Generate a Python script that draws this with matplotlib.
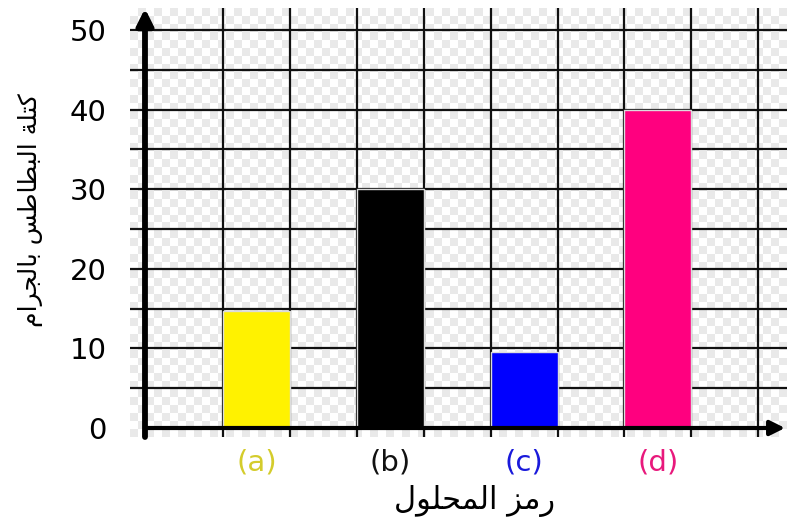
import numpy as np
import matplotlib
matplotlib.use('Agg')
import matplotlib.pyplot as plt
from matplotlib.colors import ListedColormap

# Data
categories = ['(a)', '(b)', '(c)', '(d)']
masses = [14.7, 30, 9.6, 40]
bar_colors = ['#fff200', '#000000', '#0000ff', '#ff007f']
label_colors = ['#d4cc2c', '#111111', '#1a1adb', '#e8197c']
y_ticks = [0, 10, 20, 30, 40, 50]

x_title = 'رمز المحلول'
y_title = 'كتلة البطاطس بالجرام'

# matplotlib has no Arabic shaping, so pick presentation forms by hand
# (isolated, final, initial, medial)
FORMS = {
    'ا': ('\uFE8D', '\uFE8E', None, None),
    'ب': ('\uFE8F', '\uFE90', '\uFE91', '\uFE92'),
    'ة': ('\uFE93', '\uFE94', None, None),
    'ت': ('\uFE95', '\uFE96', '\uFE97', '\uFE98'),
    'ج': ('\uFE9D', '\uFE9E', '\uFE9F', '\uFEA0'),
    'ح': ('\uFEA1', '\uFEA2', '\uFEA3', '\uFEA4'),
    'ر': ('\uFEAD', '\uFEAE', None, None),
    'ز': ('\uFEAF', '\uFEB0', None, None),
    'س': ('\uFEB1', '\uFEB2', '\uFEB3', '\uFEB4'),
    'ط': ('\uFEC1', '\uFEC2', '\uFEC3', '\uFEC4'),
    'ك': ('\uFED9', '\uFEDA', '\uFEDB', '\uFEDC'),
    'ل': ('\uFEDD', '\uFEDE', '\uFEDF', '\uFEE0'),
    'م': ('\uFEE1', '\uFEE2', '\uFEE3', '\uFEE4'),
    'و': ('\uFEED', '\uFEEE', None, None),
}


def shape_arabic(text):
    out = []
    for i, ch in enumerate(text):
        if ch not in FORMS:
            out.append(ch)
            continue
        iso, fin, ini, med = FORMS[ch]
        prev = text[i - 1] if i > 0 else ''
        nxt = text[i + 1] if i + 1 < len(text) else ''
        join_prev = prev in FORMS and FORMS[prev][2] is not None
        join_next = nxt in FORMS and ini is not None
        if join_prev and join_next:
            out.append(med)
        elif join_prev:
            out.append(fin)
        elif join_next:
            out.append(ini)
        else:
            out.append(iso)
    return ''.join(reversed(out))


plt.rcParams['font.family'] = ['DejaVu Sans']

fig = plt.figure(figsize=(7.87, 5.19), dpi=100)
ax = fig.add_axes([130 / 787, 82 / 519, 657 / 787, 429 / 519])

x_left, x_right = -1.390, 8.43
y_bottom, y_top = -1.13, 52.76
axis_x = -1.166
ax.set_xlim(x_left, x_right)
ax.set_ylim(y_bottom, y_top)

# checkered backdrop
nx, ny = 82, 54
checker = (np.add.outer(np.arange(ny), np.arange(nx)) % 2)
ax.imshow(checker, cmap=ListedColormap(['#ffffff', '#e9e9e9']),
          extent=(x_left, x_right, y_bottom, y_top), aspect='auto',
          interpolation='nearest', zorder=0)

# grid
for gx in range(0, 9):
    ax.axvline(gx, color='#111111', lw=1.6, zorder=1)
for gy in range(5, 55, 5):
    ax.axhline(gy, color='#111111', lw=1.6, zorder=1)

# bars
xpos = np.arange(len(categories)) * 2 + 0.5
ax.bar(xpos, masses, width=1.0, color=bar_colors, edgecolor='#dcdcdc',
       lw=1.0, zorder=2)

# arrowed axes
ax.annotate('', xy=(axis_x, 52.7), xytext=(axis_x, y_bottom),
            arrowprops=dict(arrowstyle='-|>', lw=4.2, color='black',
                            mutation_scale=24, shrinkA=0, shrinkB=0),
            annotation_clip=False, zorder=4)
ax.annotate('', xy=(8.40, 0), xytext=(axis_x, 0),
            arrowprops=dict(arrowstyle='-|>', lw=3.0, color='black',
                            mutation_scale=22, shrinkA=0, shrinkB=0),
            annotation_clip=False, zorder=4)

for s in ax.spines.values():
    s.set_visible(False)

ax.set_yticks(y_ticks)
ax.set_yticklabels([str(v) for v in y_ticks], fontsize=21)
ax.set_xticks(xpos)
ax.set_xticklabels(categories, fontsize=21)
for lbl, c in zip(ax.get_xticklabels(), label_colors):
    lbl.set_color(c)
ax.tick_params(axis='both', length=0)
ax.tick_params(axis='y', pad=17)
ax.tick_params(axis='x', pad=8)

ax.set_xlabel(shape_arabic(x_title), fontsize=22)
ax.xaxis.set_label_coords(0.525, -0.112)
ax.set_ylabel(shape_arabic(y_title), fontsize=18)
ax.yaxis.set_label_coords(-0.133, 0.53)

fig.savefig('out.png', dpi=100)
